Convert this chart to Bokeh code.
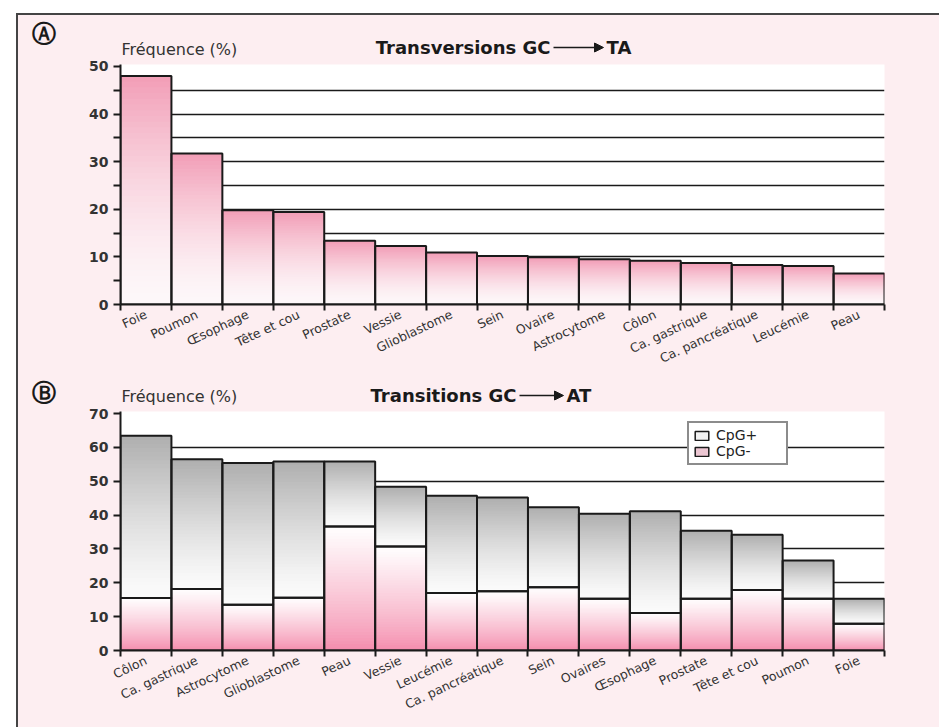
import numpy as np
from bokeh.plotting import figure
from bokeh.models import (Range1d, FixedTicker, Arrow, NormalHead,
                          Legend, LegendItem, ColumnDataSource)
from bokeh.layouts import column
from bokeh.embed import file_html
from bokeh.resources import INLINE
from bokeh.core.properties import value

# ---- Panel A : G:C -> T:A transversions (frequency, %) ----
transv_sites = ["Foie", "Poumon", "Œsophage", "Tête et cou", "Prostate", "Vessie",
                "Glioblastome", "Sein", "Ovaire", "Astrocytome", "Côlon",
                "Ca. gastrique", "Ca. pancréatique", "Leucémie", "Peau"]
transv_freq = [48.0, 31.7, 19.8, 19.4, 13.4, 12.3, 10.9, 10.2, 9.9, 9.5, 9.2,
               8.7, 8.3, 8.1, 6.5]
transv_yticks = [0, 10, 20, 30, 40, 50]
transv_yminor = [5, 15, 25, 35, 45]
transv_grid = [5, 10, 15, 20, 25, 30, 35, 40, 45]

# ---- Panel B : G:C -> A:T transitions, split CpG+ / CpG- ----
trans_sites = ["Côlon", "Ca. gastrique", "Astrocytome", "Glioblastome", "Peau",
               "Vessie", "Leucémie", "Ca. pancréatique", "Sein", "Ovaires",
               "Œsophage", "Prostate", "Tête et cou", "Poumon", "Foie"]
trans_total = [63.4, 56.5, 55.4, 55.8, 55.8, 48.4, 45.7, 45.2, 42.3, 40.4,
               41.1, 35.4, 34.2, 26.6, 15.3]
trans_cpg_minus = [15.5, 18.2, 13.5, 15.6, 36.6, 30.7, 17.0, 17.5, 18.7, 15.3,
                   11.1, 15.3, 17.9, 15.3, 7.9]
trans_yticks = [0, 10, 20, 30, 40, 50, 60, 70]
trans_grid = [10, 20, 30, 40, 50, 60]

PINK_BG = "#fdeef1"
INK = "#1a1a1a"
FONT = "DejaVu Sans"
W = 921          # width of every canvas
X0 = 18          # page x of the canvases' left edge


def mix(c0, c1, t):
    a = np.array([int(c0[i:i + 2], 16) for i in (1, 3, 5)], float)
    b = np.array([int(c1[i:i + 2], 16) for i in (1, 3, 5)], float)
    r = a + (b - a) * t
    return "#%02x%02x%02x" % tuple(int(round(v)) for v in r)


def gradient_bars(p, xs, bottoms, tops, c_bottom, c_top, steps=40, gamma=1.0):
    """Fill each bar with a vertical colour ramp made of stacked slices."""
    left, right, bot, top, col = [], [], [], [], []
    for x, b, tp in zip(xs, bottoms, tops):
        for k in range(steps):
            t = (k + 0.5) / steps
            left.append(x - 0.5)
            right.append(x + 0.5)
            bot.append(b + (tp - b) * k / steps)
            top.append(tp)
            col.append(mix(c_bottom, c_top, t ** gamma))
    src = ColumnDataSource(dict(left=left, right=right, bottom=bot, top=top, color=col))
    p.quad(left="left", right="right", bottom="bottom", top="top", source=src,
           fill_color="color", line_color=None)


def style_axes(p, sites, yticks, yminor, grid):
    n = len(sites)
    p.xaxis.ticker = FixedTicker(ticks=list(range(n)),
                                 minor_ticks=[i - 0.5 for i in range(n + 1)])
    p.xaxis.major_label_overrides = {i: s for i, s in enumerate(sites)}
    p.xaxis.major_label_orientation = 0.44
    p.xaxis.major_tick_line_color = None
    p.xaxis.major_tick_out = 0
    p.xaxis.major_tick_in = 0
    p.xaxis.minor_tick_out = 6
    p.xaxis.minor_tick_in = 0
    p.xaxis.minor_tick_line_color = INK
    p.xaxis.minor_tick_line_width = 2
    p.xaxis.major_label_standoff = 3
    p.xaxis.major_label_text_font = FONT
    p.xaxis.major_label_text_font_size = "12.5px"
    p.xaxis.major_label_text_color = "#333333"

    p.yaxis.ticker = FixedTicker(ticks=yticks, minor_ticks=yminor)
    p.yaxis.major_tick_out = 7
    p.yaxis.major_tick_in = 0
    p.yaxis.minor_tick_out = 7
    p.yaxis.minor_tick_in = 0
    p.yaxis.major_tick_line_width = 2
    p.yaxis.minor_tick_line_width = 2
    p.yaxis.major_tick_line_color = INK
    p.yaxis.minor_tick_line_color = INK if yminor else None
    p.yaxis.major_label_standoff = 5
    p.yaxis.major_label_text_font = FONT
    p.yaxis.major_label_text_font_style = "bold"
    p.yaxis.major_label_text_font_size = "14px"
    p.yaxis.major_label_text_color = "#333333"

    for ax in (p.xaxis, p.yaxis):
        ax.axis_line_color = INK
        ax.axis_line_width = 2

    p.xgrid.grid_line_color = None
    p.ygrid.ticker = FixedTicker(ticks=grid)
    p.ygrid.grid_line_color = INK
    p.ygrid.grid_line_width = 1.3


def make_fig(height, ymax, top, bottom, n):
    return figure(width=W, height=height, x_range=Range1d(-0.5, n - 0.5),
                  y_range=Range1d(0, ymax), output_backend="svg", toolbar_location=None,
                  min_border_left=102, min_border_right=55,
                  min_border_top=top, min_border_bottom=bottom,
                  background_fill_color="white", border_fill_color=PINK_BG,
                  outline_line_color=None)


def make_heading(y_top, y_bottom, letter, letter_y, title_left, title_right,
                 title_x, arrow_len, title_y, freq_y, title_px=18):
    """Strip above a panel: panel letter, y-axis caption and the panel title.
    Its data coordinates are page pixels (y grows downwards)."""
    h = figure(width=W, height=y_bottom - y_top, x_range=Range1d(X0, X0 + W),
               y_range=Range1d(y_bottom, y_top), output_backend="svg",
               toolbar_location=None, x_axis_type=None, y_axis_type=None,
               min_border=0, frame_align=False, background_fill_color=PINK_BG,
               border_fill_color=PINK_BG, outline_line_color=None)
    h.xgrid.visible = False
    h.ygrid.visible = False
    h.text(x=[43], y=[letter_y], text=[letter], text_font=value(FONT),
           text_font_size=value("24px"), text_font_style="bold", text_color=INK,
           text_align="center", text_baseline="middle")
    h.text(x=[121], y=[freq_y], text=["Fréquence (%)"], text_font=value(FONT),
           text_font_size=value("16px"), text_color="#333333",
           text_align="left", text_baseline="middle")
    h.text(x=[title_x], y=[title_y], text=[title_left], text_font=value(FONT),
           text_font_size=value(f"{title_px}px"), text_font_style="bold",
           text_color=INK, text_align="right", text_baseline="middle")
    h.add_layout(Arrow(x_start=title_x + 3, y_start=title_y,
                       x_end=title_x + 3 + arrow_len, y_end=title_y,
                       line_width=1.6, line_color=INK,
                       end=NormalHead(size=9, fill_color=INK, line_color=INK)))
    h.text(x=[title_x + 6 + arrow_len], y=[title_y], text=[title_right],
           text_font=value(FONT), text_font_size=value(f"{title_px}px"),
           text_font_style="bold", text_color=INK,
           text_align="left", text_baseline="middle")
    return h


# ---------------- Panel A ----------------
hA = make_heading(15, 58, "Ⓐ", 33, "Transversions GC", "TA",
                  title_x=550, arrow_len=50, title_y=47, freq_y=49)

nA = len(transv_sites)
pA = make_fig(317, 50.4, 6, 71, nA)
xsA = list(range(nA))
gradient_bars(pA, xsA, [0] * nA, transv_freq, "#fdf7f9", "#f29db6", gamma=1.6)
pA.quad(left=[x - 0.5 for x in xsA], right=[x + 0.5 for x in xsA],
        bottom=[0] * nA, top=transv_freq, fill_color=None, line_color=INK, line_width=2)
style_axes(pA, transv_sites, transv_yticks, transv_yminor, transv_grid)

# ---------------- Panel B ----------------
hB = make_heading(375, 407, "Ⓑ", 392, "Transitions GC", "AT",
                  title_x=516, arrow_len=44, title_y=395, freq_y=396)

nB = len(trans_sites)
pB = make_fig(320, 70.6, 4, 77, nB)
xsB = list(range(nB))
gradient_bars(pB, xsB, [0] * nB, trans_cpg_minus, "#f48aab", "#ffffff", gamma=0.8)
gradient_bars(pB, xsB, trans_cpg_minus, trans_total, "#fbfbfb", "#aeaeae", gamma=1.3)
lB = [x - 0.5 for x in xsB]
rB = [x + 0.5 for x in xsB]
pB.quad(left=lB, right=rB, bottom=[0] * nB, top=trans_cpg_minus,
        fill_color=None, line_color=INK, line_width=2)
pB.quad(left=lB, right=rB, bottom=trans_cpg_minus, top=trans_total,
        fill_color=None, line_color=INK, line_width=2)
style_axes(pB, trans_sites, trans_yticks, [], trans_grid)

# legend swatches (hidden renderers that only lend their style to the legend)
r_plus = pB.quad(left=lB[:1], right=rB[:1], bottom=trans_cpg_minus[:1],
                 top=trans_total[:1], fill_color="#f2f2f2",
                 line_color=INK, line_width=1.5, visible=False)
r_minus = pB.quad(left=lB[:1], right=rB[:1], bottom=[0], top=trans_cpg_minus[:1],
                  fill_color="#ecc6d2", line_color=INK, line_width=1.5, visible=False)
legend = Legend(items=[LegendItem(label="CpG+", renderers=[r_plus]),
                       LegendItem(label="CpG-", renderers=[r_minus])],
                location=(567, 185), orientation="vertical",
                border_line_color=INK, border_line_width=2,
                background_fill_color="white", background_fill_alpha=1.0,
                inactive_fill_alpha=0.0,
                label_text_font=FONT, label_text_font_size="14px",
                label_text_color="#222222",
                glyph_width=17, glyph_height=11, label_height=13, label_width=66,
                label_standoff=6, spacing=0, padding=4, margin=0)
pB.add_layout(legend)

layout = column(hA, pA, hB, pB, margin=(13, 0, 0, 16),
                styles={"border-left": "2px solid #444", "border-top": "2px solid #444",
                        "background-color": PINK_BG})

open("out.html", "w").write(file_html(layout, INLINE))
